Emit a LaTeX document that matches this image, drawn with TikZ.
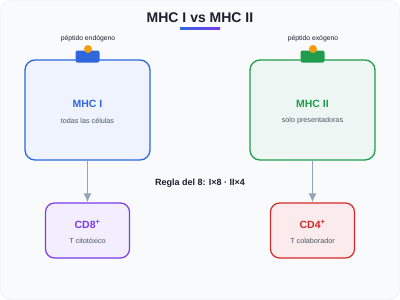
\documentclass[tikz,border=0pt]{standalone}
\usepackage{fontspec}
\setmainfont{Liberation Sans}
\usepackage{tikz}
\usetikzlibrary{arrows.meta, positioning, shapes, calc}

\definecolor{bgfill}{HTML}{F8FAFC}
\definecolor{bgline}{HTML}{E5E7EB}
\definecolor{titlec}{HTML}{1E1E2E}
\definecolor{mblue}{HTML}{2F67DD}
\definecolor{mbluebg}{HTML}{EEF3FD}
\definecolor{mgreen}{HTML}{1F9D4D}
\definecolor{mgreenbg}{HTML}{EEF6F3}
\definecolor{mpurple}{HTML}{7C3AED}
\definecolor{mpurplebg}{HTML}{F2EEFD}
\definecolor{mred}{HTML}{D42A2A}
\definecolor{mredbg}{HTML}{FBEBEC}
\definecolor{morange}{HTML}{F59E0B}
\definecolor{arrowc}{HTML}{94A3B8}
\definecolor{subc}{HTML}{4B5563}

\begin{document}
\begin{tikzpicture}[
    x=1pt, y=-1pt,
    bigbox/.style={
        rectangle,
        draw,
        rounded corners=10pt,
        line width=1.3pt,
        minimum width=125pt,
        minimum height=100pt
    },
    cellbox/.style={
        rectangle,
        draw,
        rounded corners=9pt,
        line width=1.2pt,
        minimum width=84pt,
        minimum height=55pt
    },
    tab/.style={
        rectangle,
        rounded corners=2pt,
        minimum width=24pt,
        minimum height=12pt,
        inner sep=0pt
    },
    dot/.style={circle, fill=morange, minimum size=8pt, inner sep=0pt},
    head/.style={font=\fontsize{10.5}{12}\selectfont\bfseries},
    sub/.style={font=\fontsize{7.2}{8.5}\selectfont, text=subc},
    tiny/.style={font=\fontsize{6.8}{8}\selectfont, text=titlec},
    arrow/.style={-{Latex[length=9pt,width=8pt]}, draw=arrowc, line width=1.7pt}
]

\useasboundingbox (0,0) rectangle (400,300);
\draw[bgline, fill=bgfill, rounded corners=10pt] (0.5,0.5) rectangle (399.5,299.5);

% --- Titel ---
\node[font=\fontsize{14}{16}\selectfont\bfseries, text=titlec] (title) at (200,18) {MHC I vs MHC II};
\shade[left color=mblue, right color=mpurple] (180,27) rectangle (220,29.5);

% --- links: MHC I ---
\node[bigbox, draw=mblue, fill=mbluebg] (mhc1) at (87.5,110) {};
\node[tab, fill=mblue] (tab1) at (87.5,56.5) {};
\node[dot] (pep1) at (88,49) {};
\node[tiny] (lab1) at (88,39) {péptido endógeno};
\node[head, text=mblue] (name1) at (87.5,104) {MHC I};
\node[sub] (desc1) at (87.5,121) {todas las células};

% --- rechts: MHC II ---
\node[bigbox, draw=mgreen, fill=mgreenbg] (mhc2) at (312.5,110) {};
\node[tab, fill=mgreen] (tab2) at (312.5,56.5) {};
\node[dot] (pep2) at (313,49) {};
\node[tiny] (lab2) at (313,39) {péptido exógeno};
\node[head, text=mgreen] (name2) at (312.5,104) {MHC II};
\node[sub] (desc2) at (312.5,121) {solo presentadoras};

% --- unten: T-Zellen ---
\node[cellbox, draw=mpurple, fill=mpurplebg] (cd8) at (87.5,230.5) {};
\node[head, text=mpurple] (cd8name) at (87.5,224) {CD8\textsuperscript{+}};
\node[sub] (cd8desc) at (87.5,241) {T citotóxico};

\node[cellbox, draw=mred, fill=mredbg] (cd4) at (312.5,230.5) {};
\node[head, text=mred] (cd4name) at (312.5,224) {CD4\textsuperscript{+}};
\node[sub] (cd4desc) at (312.5,241) {T colaborador};

% --- Regel ---
\node[font=\fontsize{9}{11}\selectfont\bfseries, text=titlec] (rule) at (200,183) {Regla del 8: I×8 · II×4};

% --- Pfeile ---
\draw[arrow] (mhc1.south) -- (cd8.north);
\draw[arrow] (mhc2.south) -- (cd4.north);

\end{tikzpicture}
\end{document}
